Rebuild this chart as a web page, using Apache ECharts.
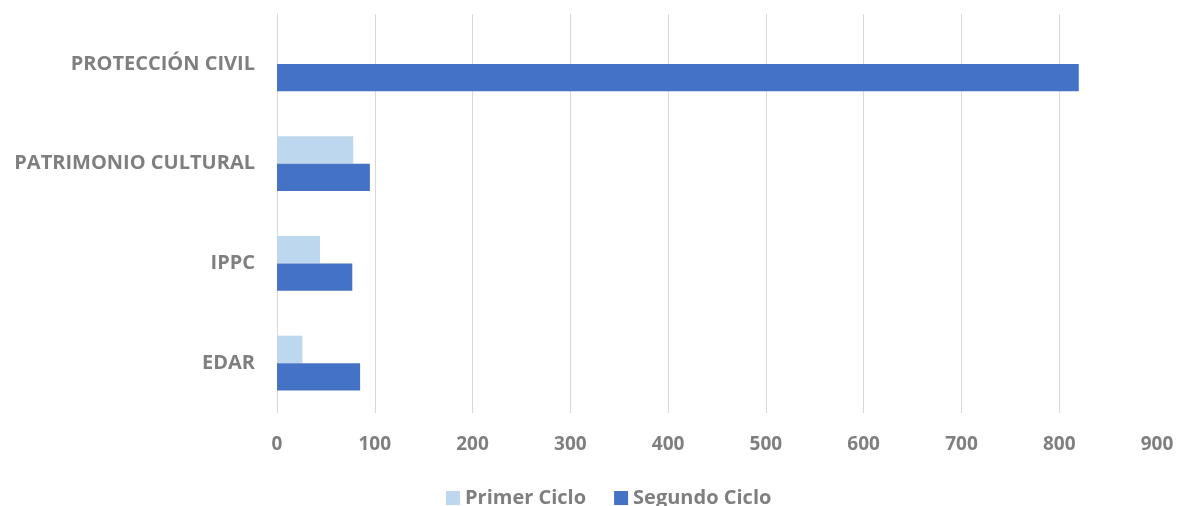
<!DOCTYPE html>
<html>
<head>
<meta charset="utf-8">
<script src="https://cdn.jsdelivr.net/npm/echarts@6/dist/echarts.min.js"></script>
<style>
  html, body { margin: 0; padding: 0; background: #ffffff; }
  #chart { width: 1178px; height: 506px; }
</style>
</head>
<body>
<div id="chart"></div>
<script>
// Categories listed bottom to top along the vertical axis
const categories = ['EDAR', 'IPPC', 'PATRIMONIO CULTURAL', 'PROTECCIÓN CIVIL'];
const primerCiclo = [26, 44, 78, 0];
const segundoCiclo = [85, 77, 95, 820];
const seriesNames = ['Primer Ciclo', 'Segundo Ciclo'];

const textGray = '#7f7f7f';
const font = '"Open Sans", "DejaVu Sans", sans-serif';

const chart = echarts.init(document.getElementById('chart'), null, { renderer: 'canvas' });
chart.setOption({
  animation: false,
  backgroundColor: '#ffffff',
  grid: { left: 277, right: 21, top: 14, bottom: 93, containLabel: false },
  legend: {
    data: seriesNames,
    bottom: -7,
    left: 441,
    itemWidth: 14,
    itemHeight: 14,
    itemGap: 28,
    icon: 'rect',
    textStyle: { color: textGray, fontFamily: font, fontWeight: 'bold', fontSize: 20 }
  },
  xAxis: {
    type: 'value',
    min: 0,
    max: 900,
    interval: 100,
    axisLine: { show: false },
    axisTick: { show: false },
    axisLabel: { color: textGray, fontFamily: font, fontWeight: 'bold', fontSize: 19, margin: 22 },
    splitLine: { show: true, showMaxLine: false, lineStyle: { color: '#d9d9d9', width: 1 } }
  },
  yAxis: {
    type: 'category',
    data: categories,
    axisLine: { show: true, lineStyle: { color: '#d9d9d9', width: 1 } },
    axisTick: { show: false },
    axisLabel: { color: textGray, fontFamily: font, fontWeight: 'bold', fontSize: 20, margin: 22 }
  },
  series: [
    {
      name: seriesNames[0],
      type: 'bar',
      data: primerCiclo,
      barGap: '0%',
      barCategoryGap: '45%',
      itemStyle: { color: '#bdd7ee' }
    },
    {
      name: seriesNames[1],
      type: 'bar',
      data: segundoCiclo,
      barGap: '0%',
      barCategoryGap: '45%',
      itemStyle: { color: '#4472c4' }
    }
  ]
});
</script>
</body>
</html>
